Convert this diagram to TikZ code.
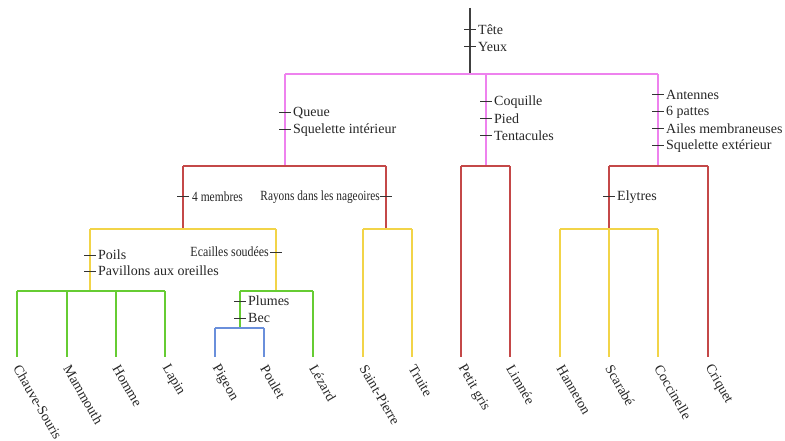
\documentclass[tikz,border=0pt]{standalone}
\usepackage{fontspec}
\setmainfont{Liberation Serif}
\begin{document}
\begin{tikzpicture}[x=1pt,y=-1pt,
  br/.style={line width=1.6pt},
  cpink/.style={br,draw=vpink},
  cred/.style={br,draw=vred},
  cyel/.style={br,draw=vyel},
  cgreen/.style={br,draw=vgreen},
  cblue/.style={br,draw=vblue},
  tickmark/.style={line width=1pt,draw=black!80},
  lab/.style={font=\fontsize{14}{15}\selectfont,text=black!85,inner sep=0pt},
  leaf/.style={lab,rotate=-60,anchor=west}]
\definecolor{vpink}{RGB}{238,130,238}
\definecolor{vred}{RGB}{196,72,72}
\definecolor{vyel}{RGB}{242,212,72}
\definecolor{vgreen}{RGB}{102,204,51}
\definecolor{vblue}{RGB}{106,143,219}
\useasboundingbox (0,0) rectangle (785,441);
% root
\coordinate (top) at (470,8);
\coordinate (p0) at (470,74);
\coordinate (pl) at (285,74);
\coordinate (pm) at (486,74);
\coordinate (pr) at (658,74);
\draw[line width=1.4pt,draw=black!75] (top) -- (p0);
\draw[cpink] (pl) -- (pr);
% red level
\coordinate (rv) at (285,166);
\coordinate (rvl) at (183,166);
\coordinate (rvr) at (386,166);
\coordinate (rm) at (486,166);
\coordinate (rml) at (461,166);
\coordinate (rmr) at (510,166);
\coordinate (ra) at (658,166);
\coordinate (ral) at (609,166);
\coordinate (rar) at (708,166);
\draw[cpink] (pl) -- (rv);
\draw[cpink] (pm) -- (rm);
\draw[cpink] (pr) -- (ra);
\draw[cred] (rvl) -- (rvr);
\draw[cred] (rml) -- (rmr);
\draw[cred] (ral) -- (rar);
% yellow level
\coordinate (yt) at (183,229);
\coordinate (ytl) at (90,229);
\coordinate (ytr) at (276,229);
\coordinate (yf) at (386,229);
\coordinate (yfl) at (363,229);
\coordinate (yfr) at (412,229);
\coordinate (yb) at (609,229);
\coordinate (ybl) at (560,229);
\coordinate (ybr) at (658,229);
\draw[cred] (rvl) -- (yt);
\draw[cred] (rvr) -- (yf);
\draw[cred] (ral) -- (yb);
\draw[cyel] (ytl) -- (ytr);
\draw[cyel] (yfl) -- (yfr);
\draw[cyel] (ybl) -- (ybr);
% green level
\coordinate (gm) at (90,291);
\coordinate (gml) at (17,291);
\coordinate (gmr) at (165,291);
\coordinate (gs) at (276,291);
\coordinate (gsl) at (240,291);
\coordinate (gsr) at (313,291);
\draw[cyel] (ytl) -- (gm);
\draw[cyel] (ytr) -- (gs);
\draw[cgreen] (gml) -- (gmr);
\draw[cgreen] (gsl) -- (gsr);
% blue level
\coordinate (bo) at (240,328);
\coordinate (bol) at (215,328);
\coordinate (bor) at (264,328);
\draw[cgreen] (gsl) -- (bo);
\draw[cblue] (bol) -- (bor);
% leaves
\foreach \n/\x in {l1/17,l2/67,l3/116,l4/165,l5/215,l6/264,l7/313,l8/363,l9/412,l10/461,l11/510,l12/560,l13/609,l14/658,l15/708}
  \coordinate (\n) at (\x,357);
\draw[cgreen] (gml) -- (l1);
\draw[cgreen] (67,291) -- (l2);
\draw[cgreen] (116,291) -- (l3);
\draw[cgreen] (gmr) -- (l4);
\draw[cblue] (bol) -- (l5);
\draw[cblue] (bor) -- (l6);
\draw[cgreen] (gsr) -- (l7);
\draw[cyel] (yfl) -- (l8);
\draw[cyel] (yfr) -- (l9);
\draw[cred] (rml) -- (l10);
\draw[cred] (rmr) -- (l11);
\draw[cyel] (ybl) -- (l12);
\draw[cyel] (yb) -- (l13);
\draw[cyel] (ybr) -- (l14);
\draw[cred] (rar) -- (l15);
% leaf labels
\foreach \n/\t in {l1/Chauve-Souris,l2/Mammouth,l3/Homme,l4/Lapin,l5/Pigeon,l6/Poulet,l7/Lézard,l8/Saint-Pierre,l9/Truite,l10/Petit gris,l11/Limnée,l12/Hanneton,l13/Scarabé,l14/Coccinelle,l15/Criquet}
  \node[leaf] (t\n) at ([shift={(0,9)}]\n) {\t};
% tick marks with labels (right side)
\foreach \nm/\x/\y/\t in {tA/470/30/Tête,tB/470/47/Yeux,
  tC/285/113/Queue,tD/285/130/Squelette intérieur,
  tE/486/102/Coquille,tF/486/119/Pied,tG/486/136/Tentacules,
  tH/658/95/Antennes,tI/658/112/6 pattes,tJ/658/129/Ailes membraneuses,tK/658/146/Squelette extérieur,
  tL/609/197/Elytres,
  tM/90/255/Poils,tN/90/271/Pavillons aux oreilles,
  tO/240/301/Plumes,tP/240/318/Bec}{
  \coordinate (\nm) at (\x,\y);
  \draw[tickmark] ([xshift=-6]\nm) -- ([xshift=6]\nm);
  \node[lab,anchor=west] (\nm t) at ([xshift=8]\nm) {\t};
}
\coordinate (tQ) at (183,197);
\draw[tickmark] ([xshift=-6]tQ) -- ([xshift=6]tQ);
\node[lab,anchor=west] (tQt) at ([xshift=9]tQ) {\scalebox{0.82}[1]{4 membres}};
\coordinate (tR) at (386,197);
\draw[tickmark] ([xshift=-6]tR) -- ([xshift=6]tR);
\node[lab,anchor=east] (tRt) at ([xshift=-6]tR) {\scalebox{0.81}[1]{Rayons dans les nageoires}};
\coordinate (tS) at (276,252);
\draw[tickmark] ([xshift=-6]tS) -- ([xshift=6]tS);
\node[lab,anchor=east] (tSt) at ([xshift=-7]tS) {\scalebox{0.85}[1]{Ecailles soudées}};
\end{tikzpicture}
\end{document}
